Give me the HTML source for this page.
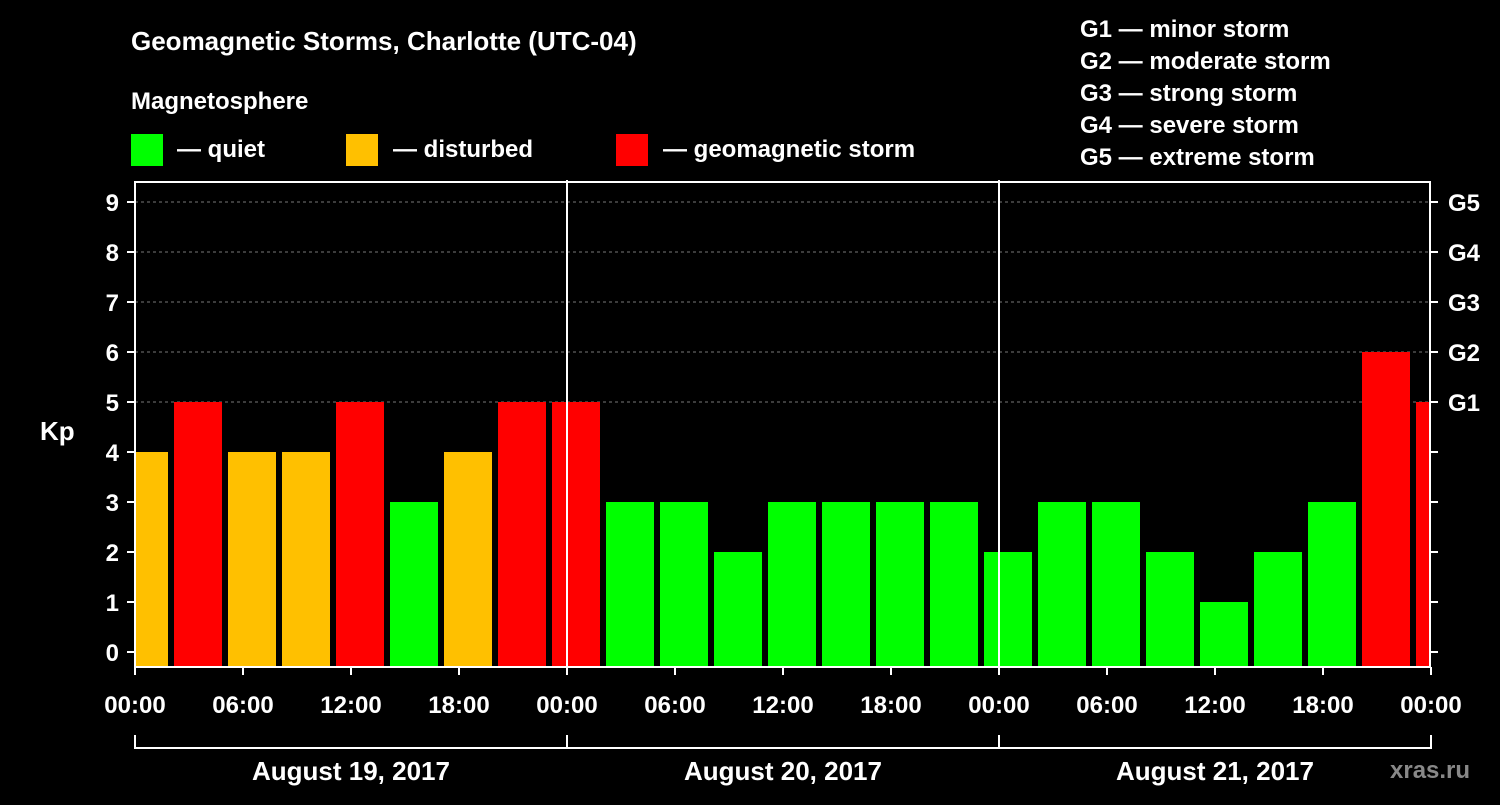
<!DOCTYPE html>
<html><head><meta charset="utf-8"><style>
body{margin:0;background:#000;width:1500px;height:800px;overflow:hidden}
svg text{font-family:"Liberation Sans",Arial,sans-serif;font-weight:bold;fill:#fff}
</style></head><body>
<svg id="chart" width="1500" height="800" xmlns="http://www.w3.org/2000/svg">
<text x="131" y="50" font-size="26">Geomagnetic Storms, Charlotte (UTC-04)</text>
<text x="131" y="109" font-size="24">Magnetosphere</text>
<rect x="131" y="134" width="32" height="32" fill="#00ff00"/>
<text x="177" y="157" font-size="24">— quiet</text>
<rect x="346" y="134" width="32" height="32" fill="#ffc000"/>
<text x="393" y="157" font-size="24">— disturbed</text>
<rect x="616" y="134" width="32" height="32" fill="#ff0000"/>
<text x="663" y="157" font-size="24">— geomagnetic storm</text>
<g font-size="24">
<text x="1080" y="37">G1 — minor storm</text>
<text x="1080" y="69">G2 — moderate storm</text>
<text x="1080" y="101">G3 — strong storm</text>
<text x="1080" y="133">G4 — severe storm</text>
<text x="1080" y="165">G5 — extreme storm</text>
</g>
<text x="40" y="440" font-size="26">Kp</text>
<text x="1390" y="778" font-size="24" fill="#888" style="fill:#888">xras.ru</text>
<g id="plot"></g>
</svg>
<script>
const kpValues=[4,5,4,4,5,3,4,5,5,3,3,2,3,3,3,3,2,3,3,2,1,2,3,6,5];
const yTicks=[0,1,2,3,4,5,6,7,8,9];
const gLabels=["","","","","","G1","G2","G3","G4","G5"];
const xTickLabels=["00:00","06:00","12:00","18:00","00:00","06:00","12:00","18:00","00:00","06:00","12:00","18:00","00:00"];
const dayLabels=["August 19, 2017","August 20, 2017","August 21, 2017"];
const X0=135,X1=1430,Y0=652,PX_PER_KP=50,PX_PER_HOUR=18,TOP=182,BOT=667;
const xScale=h=>X0+h*PX_PER_HOUR;
const yScale=v=>Y0-v*PX_PER_KP;
const NS="http://www.w3.org/2000/svg";
const g=document.getElementById('plot');
function mk(t,a){const e=document.createElementNS(NS,t);for(const k in a)e.setAttribute(k,a[k]);g.appendChild(e);return e;}
// grid
yTicks.forEach(v=>{if(v>=5){const l=mk('line',{x1:X0,x2:X1,y1:yScale(v),y2:yScale(v),stroke:'#777','stroke-dasharray':'3,3'});

}});
// bars
kpValues.forEach((v,i)=>{
 let x=xScale(-1+3*i)+3, w=48;
 let xe=Math.min(x+w,X1); x=Math.max(x,X0);
 const c=v>=5?'#ff0000':(v>=4?'#ffc000':'#00ff00');
 const r=mk('rect',{x:x,y:yScale(v),width:xe-x,height:yScale(0)+15-yScale(v),fill:c});
 
 
});
// frame
const fr=mk('rect',{x:X0,y:TOP,width:X1-X0,height:BOT-TOP,fill:'none',stroke:'#fff','stroke-width':2});


// day separators
[1,2].forEach(d=>{const l=mk('line',{x1:xScale(24*d),x2:xScale(24*d),y1:TOP-2,y2:BOT,stroke:'#fff','stroke-width':2});

});
// y ticks
yTicks.forEach(v=>{
 mk('line',{x1:X0-8,x2:X0,y1:yScale(v),y2:yScale(v),stroke:'#fff','stroke-width':2});
 mk('line',{x1:X1,x2:X1+8,y1:yScale(v),y2:yScale(v),stroke:'#fff','stroke-width':2});
 const t=mk('text',{x:X0-16,y:yScale(v)+9,'font-size':24,'text-anchor':'end'});t.textContent=v;
 
 
 if(gLabels[v]){const t2=mk('text',{x:X1+18,y:yScale(v)+9,'font-size':24});t2.textContent=gLabels[v];
 
 }
});
// x ticks
xTickLabels.forEach((s,i)=>{
 const x=xScale(6*i);
 mk('line',{x1:x,x2:x,y1:BOT,y2:BOT+8,stroke:'#fff','stroke-width':2});
 const t=mk('text',{x:x,y:713,'font-size':24,'text-anchor':'middle'});t.textContent=s;
 
 
});
// day brackets
mk('line',{x1:X0,x2:X1,y1:748,y2:748,stroke:'#fff','stroke-width':2});
[0,1,2,3].forEach(d=>mk('line',{x1:xScale(24*d),x2:xScale(24*d),y1:735,y2:749,stroke:'#fff','stroke-width':2}));
dayLabels.forEach((s,d)=>{const t=mk('text',{x:xScale(24*d+12),y:780,'font-size':26,'text-anchor':'middle'});t.textContent=s;
 
 });
</script>
</body></html>
